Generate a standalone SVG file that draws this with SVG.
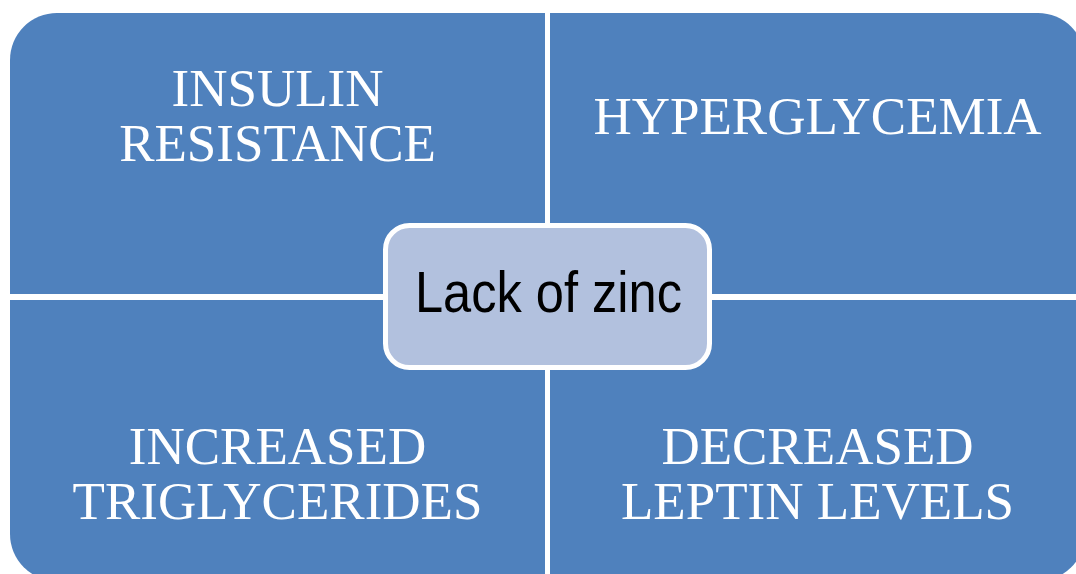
<svg xmlns="http://www.w3.org/2000/svg" width="1076" height="574" viewBox="0 0 1076 574">
<defs>
<style>
.q{fill:#4F81BD;}
.qt{font-family:"Liberation Serif","Times New Roman",serif;font-size:53px;fill:#FFFFFF;text-anchor:middle;}
.c{fill:#B2C1DE;stroke:#FFFFFF;stroke-width:5;}
.ct{font-family:"Liberation Sans",Arial,sans-serif;font-size:58px;fill:#000000;text-anchor:middle;}
</style>
</defs>
<rect width="1076" height="574" fill="#FFFFFF"/>
<g id="insulin-resistance">
<path class="q" d="M10,60 A47,47 0 0 1 57,13 L545,13 L545,294 L10,294 Z"/>
<text class="qt" x="277.5" y="106">INSULIN</text>
<text class="qt" x="277.5" y="161">RESISTANCE</text>
</g>
<g id="hyperglycemia">
<path class="q" d="M550,13 L1038,13 A47,47 0 0 1 1085,60 L1085,294 L550,294 Z"/>
<text class="qt" x="817.5" y="134">HYPERGLYCEMIA</text>
</g>
<g id="increased-triglycerides">
<path class="q" d="M10,300 L545,300 L545,581 L57,581 A47,47 0 0 1 10,534 Z"/>
<text class="qt" x="277.5" y="464">INCREASED</text>
<text class="qt" x="277.5" y="519">TRIGLYCERIDES</text>
</g>
<g id="decreased-leptin">
<path class="q" d="M550,300 L1085,300 L1085,534 A47,47 0 0 1 1038,581 L550,581 Z"/>
<text class="qt" x="817.5" y="464">DECREASED</text>
<text class="qt" x="817.5" y="519">LEPTIN LEVELS</text>
</g>
<g id="connectors"></g>
<g id="lack-of-zinc">
<rect class="c" x="385.5" y="225.5" width="324" height="142" rx="24" ry="24"/>
<text class="ct" x="548.5" y="312" textLength="267" lengthAdjust="spacingAndGlyphs">Lack of zinc</text>
</g>
</svg>
